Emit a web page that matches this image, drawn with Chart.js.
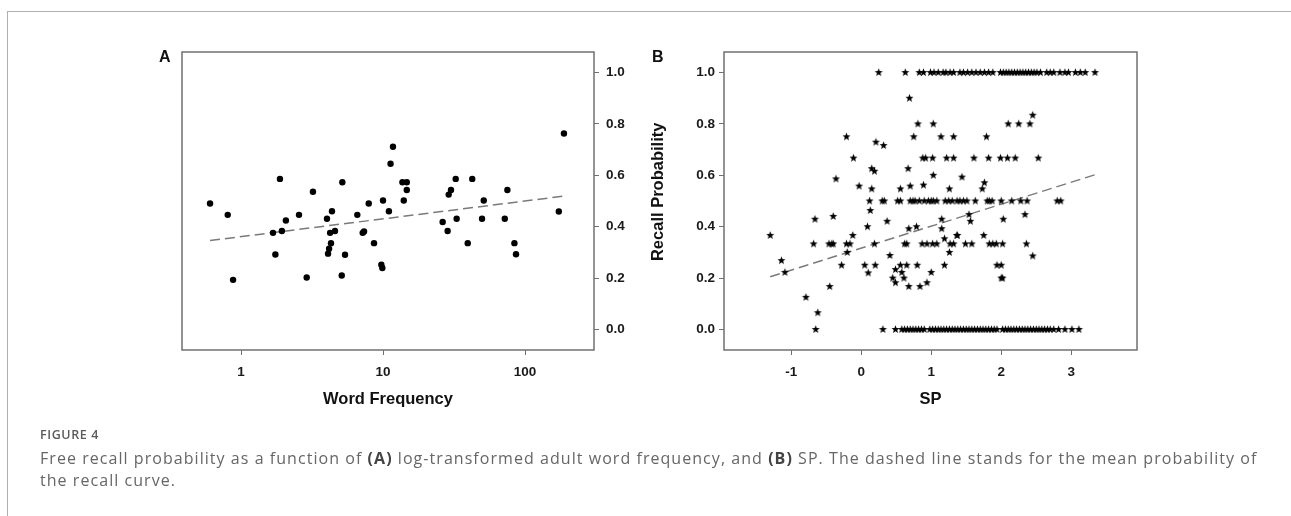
<!DOCTYPE html>
<html><head><meta charset="utf-8">
<script src="https://cdn.jsdelivr.net/npm/chart.js@4/dist/chart.umd.min.js"></script>
<style>
html,body{margin:0;padding:0;background:#fff;width:1291px;height:516px;overflow:hidden;position:relative;}
#frame{position:absolute;left:7px;top:11px;width:1284px;height:505px;border-top:1px solid #b0b0b0;border-left:1px solid #b0b0b0;box-sizing:border-box;}
canvas{position:absolute;left:0;top:0;}
.plab{position:absolute;font-family:'Liberation Sans',Arial,sans-serif;font-weight:bold;font-size:16px;color:#111;}
#figlabel{position:absolute;left:40px;top:426px;font-family:'Open Sans',sans-serif;font-weight:600;font-size:12.5px;color:#5a5a5a;letter-spacing:0.6px;}
#caption{position:absolute;left:40px;top:447px;font-family:'Open Sans',sans-serif;font-size:16px;line-height:22px;color:#666;width:1228px;letter-spacing:1.05px;}
#caption b{color:#444;font-weight:700;}
</style></head>
<body>
<div id="frame"></div>
<canvas id="chartA" width="1291" height="516"></canvas>
<canvas id="chartB" width="1291" height="516"></canvas>
<div class="plab" style="left:159px;top:48px;">A</div>
<div class="plab" style="left:652px;top:48px;">B</div>
<div id="figlabel">FIGURE 4</div>
<div id="caption">Free recall probability as a function of <b>(A)</b> log-transformed adult word frequency, and <b>(B)</b> SP. The dashed line stands for the mean probability of the recall curve.</div>
<script>
// ---------- Panel A data ----------
const wordFreq = [0.605,0.806,0.879,1.88,1.745,1.68,1.94,2.07,2.56,2.90,3.21,4.03,4.37,4.24,4.59,4.30,4.17,4.10,5.17,5.40,5.12,6.59,7.93,7.19,7.35,8.64,10.0,11.0,9.73,9.89,11.3,11.75,13.7,14.7,14.7,14.0,26.3,28.5,29.0,30.1,32.5,33.0,39.5,42.5,49.8,51.2,72.0,75.1,84.2,86.4,173,188];
const recallA  = [0.490,0.446,0.193,0.586,0.292,0.376,0.383,0.424,0.446,0.202,0.536,0.431,0.460,0.376,0.383,0.336,0.314,0.295,0.573,0.291,0.210,0.446,0.490,0.376,0.381,0.336,0.502,0.460,0.252,0.239,0.645,0.711,0.573,0.573,0.543,0.502,0.418,0.383,0.525,0.543,0.586,0.431,0.336,0.586,0.431,0.502,0.431,0.543,0.336,0.293,0.459,0.763];
const fitAx = [0.605,188];
const fitAy = [0.346,0.519];
const freqTicks = [1,10,100];

// ---------- Panel B data ----------
const spAtOne = [0.25,0.63,0.83,0.89,0.99,1.04,1.10,1.17,1.21,1.27,1.32,1.41,1.46,1.52,1.58,1.64,1.70,1.76,1.82,1.88,1.99,2.03,2.07,2.11,2.15,2.19,2.23,2.27,2.31,2.35,2.39,2.43,2.47,2.51,2.56,2.65,2.70,2.75,2.84,2.91,2.96,3.06,3.13,3.20,3.34];
const spAtZero = [-0.65,0.31,0.49,0.58,0.62,0.66,0.70,0.74,0.78,0.82,0.86,0.90,0.98,1.02,1.06,1.10,1.14,1.18,1.22,1.26,1.30,1.34,1.38,1.42,1.46,1.50,1.54,1.58,1.62,1.66,1.70,1.74,1.78,1.82,1.86,1.90,1.94,2.02,2.06,2.10,2.14,2.18,2.22,2.26,2.30,2.34,2.38,2.42,2.46,2.50,2.54,2.58,2.62,2.66,2.70,2.75,2.82,2.91,3.01,3.11];
const spMid = [0.69,0.81,1.03,2.45,2.10,2.25,2.41,-0.21,0.75,1.14,1.32,1.79,0.21,0.32,
 -0.11,0.88,0.92,1.02,1.22,1.32,1.61,1.82,1.99,2.09,2.20,2.53,0.15,0.19,0.67,1.03,1.44,-0.36,1.76,-0.03,0.15,0.56,0.70,0.89,1.26,1.73,
 0.12,0.30,0.33,0.52,0.56,0.70,0.74,0.77,0.83,0.90,0.96,1.00,1.03,1.08,1.20,1.25,1.30,1.37,1.41,1.46,1.51,1.63,1.80,1.83,1.87,2.00,2.15,2.28,2.37,2.80,2.85,
 0.13,1.54,2.34,-0.66,-0.40,1.15,2.03,0.37,1.56,0.09,0.79,0.68,1.15,-1.30,-0.12,1.37,1.37,1.75,1.19,
 -0.68,-0.46,-0.42,-0.40,-0.21,-0.16,0.19,0.62,0.65,0.87,0.94,1.02,1.08,1.27,1.32,1.49,1.58,1.83,1.88,1.93,2.02,2.36,
 -0.20,1.26,0.41,2.45,-1.14,-0.28,0.05,0.20,0.56,0.65,0.80,1.19,1.94,2.00,0.49,0.58,-1.09,0.10,1.00,0.45,0.61,2.00,2.02,0.49,0.94,0.68,0.84,-0.45,-0.79,-0.62];
const recallMid = [0.90,0.80,0.80,0.834,0.80,0.80,0.80,0.75,0.75,0.75,0.75,0.75,0.729,0.716,
 0.667,0.667,0.667,0.667,0.667,0.667,0.667,0.667,0.667,0.667,0.667,0.667,0.626,0.616,0.626,0.60,0.593,0.586,0.571,0.558,0.547,0.547,0.558,0.562,0.547,0.547,
 0.5,0.5,0.5,0.5,0.5,0.5,0.5,0.5,0.5,0.5,0.5,0.5,0.5,0.5,0.5,0.5,0.5,0.5,0.5,0.5,0.5,0.5,0.5,0.5,0.5,0.5,0.5,0.5,0.5,0.5,0.5,
 0.463,0.447,0.447,0.429,0.44,0.429,0.429,0.421,0.421,0.40,0.40,0.392,0.392,0.366,0.366,0.366,0.366,0.366,0.353,
 0.333,0.333,0.333,0.333,0.333,0.333,0.333,0.333,0.333,0.333,0.333,0.333,0.333,0.333,0.333,0.333,0.333,0.333,0.333,0.333,0.333,0.333,
 0.30,0.30,0.288,0.286,0.268,0.25,0.25,0.25,0.25,0.25,0.25,0.25,0.25,0.25,0.233,0.222,0.222,0.22,0.222,0.20,0.20,0.20,0.20,0.182,0.182,0.167,0.167,0.167,0.125,0.065];
const fitBx = [-1.30,3.35];
const fitBy = [0.205,0.603];
const spTicks = [-1,0,1,2,3];
const recallTicks = [0,0.2,0.4,0.6,0.8,1.0];

// ---------- helpers ----------
const tickFont = {family:"'Liberation Sans', Arial, sans-serif", size:13.5, weight:'bold'};
const titleFont = {family:"'Liberation Sans', Arial, sans-serif", size:16.5, weight:'bold'};
const tickColor = '#1a1a1a';
const axisGray = '#707070';
const dashGray = '#7a7a7a';

const frameBox = {id:'frameBox', afterDatasetsDraw(chart){
  const {ctx, chartArea:a} = chart;
  ctx.save(); ctx.strokeStyle = axisGray; ctx.lineWidth = 1.5;
  ctx.strokeRect(a.left, a.top, a.right - a.left, a.bottom - a.top);
  ctx.restore();
}};

function makeStar(R, r){
  const s = Math.ceil(2*R + 2);
  const c = document.createElement('canvas'); c.width = s; c.height = s;
  const g = c.getContext('2d'); g.fillStyle = '#000'; g.beginPath();
  for (let i = 0; i < 10; i++){
    const rad = i % 2 ? r : R; const ang = -Math.PI/2 + i*Math.PI/5;
    g.lineTo(s/2 + rad*Math.cos(ang), s/2 + rad*Math.sin(ang));
  }
  g.closePath(); g.fill(); return c;
}
const star = makeStar(4.2, 1.8);

function yScale(position, pad){
  return {type:'linear', position, min:-0.08, max:1.08,
    afterBuildTicks:s=>{s.ticks = recallTicks.map(v=>({value:v}));},
    ticks:{font:tickFont, color:tickColor, padding:pad, callback:v=>Number(v).toFixed(1)},
    grid:{display:true, drawOnChartArea:false, drawTicks:true, tickLength:5, tickColor:axisGray, tickWidth:1},
    border:{display:false}};
}

// ---------- Panel A ----------
const yA = yScale('right', 7);
yA.afterFit = s=>{s.width = 50;};
new Chart(document.getElementById('chartA'), {
  type:'scatter',
  data:{datasets:[
    {data: wordFreq.map((x,i)=>({x, y:recallA[i]})), pointStyle:'circle', pointRadius:3.2, backgroundColor:'#000', borderWidth:0},
    {type:'line', data: fitAx.map((x,i)=>({x, y:fitAy[i]})), borderColor:dashGray, borderWidth:1.5, borderDash:[10,5], pointRadius:0, fill:false}
  ]},
  options:{responsive:false, animation:false, events:[],
    layout:{padding:{left:182, top:52, right:647, bottom:106}},
    plugins:{legend:{display:false}, tooltip:{enabled:false}},
    scales:{
      x:{type:'logarithmic', position:'bottom', min:0.384, max:306,
        afterBuildTicks:s=>{s.ticks = freqTicks.map(v=>({value:v}));},
        afterFit:s=>{s.height = 60;},
        ticks:{font:tickFont, color:tickColor, padding:9, autoSkip:false, maxRotation:0, callback:v=>String(v)},
        grid:{display:true, drawOnChartArea:false, drawTicks:true, tickLength:5, tickColor:axisGray, tickWidth:1},
        border:{display:false},
        title:{display:true, text:'Word Frequency', font:titleFont, color:'#111', padding:{top:0, bottom:1}}},
      y:yA
    }},
  plugins:[frameBox]
});

// ---------- Panel B ----------
const yB = yScale('left', 4);
yB.afterFit = s=>{s.width = 84;};
yB.title = {display:true, text:'    Recall Probability', font:titleFont, color:'#111', padding:{top:9, bottom:0}};
const ptsB = spAtOne.map(x=>({x, y:1}))
  .concat(spAtZero.map(x=>({x, y:0})))
  .concat(spMid.map((x,i)=>({x, y:recallMid[i]})));
new Chart(document.getElementById('chartB'), {
  type:'scatter',
  data:{datasets:[
    {data: ptsB, pointStyle:star, pointRadius:4, backgroundColor:'#000'},
    {type:'line', data: fitBx.map((x,i)=>({x, y:fitBy[i]})), borderColor:dashGray, borderWidth:1.5, borderDash:[10,5], pointRadius:0, fill:false}
  ]},
  options:{responsive:false, animation:false, events:[],
    layout:{padding:{left:640, top:52, right:154, bottom:106}},
    plugins:{legend:{display:false}, tooltip:{enabled:false}},
    scales:{
      x:{type:'linear', position:'bottom', min:-1.96, max:3.94,
        afterBuildTicks:s=>{s.ticks = spTicks.map(v=>({value:v}));},
        afterFit:s=>{s.height = 60;},
        ticks:{font:tickFont, color:tickColor, padding:9, autoSkip:false, maxRotation:0, callback:v=>String(v)},
        grid:{display:true, drawOnChartArea:false, drawTicks:true, tickLength:5, tickColor:axisGray, tickWidth:1},
        border:{display:false},
        title:{display:true, text:'SP', font:titleFont, color:'#111', padding:{top:0, bottom:1}}},
      y:yB
    }},
  plugins:[frameBox]
});
</script>
</body></html>
